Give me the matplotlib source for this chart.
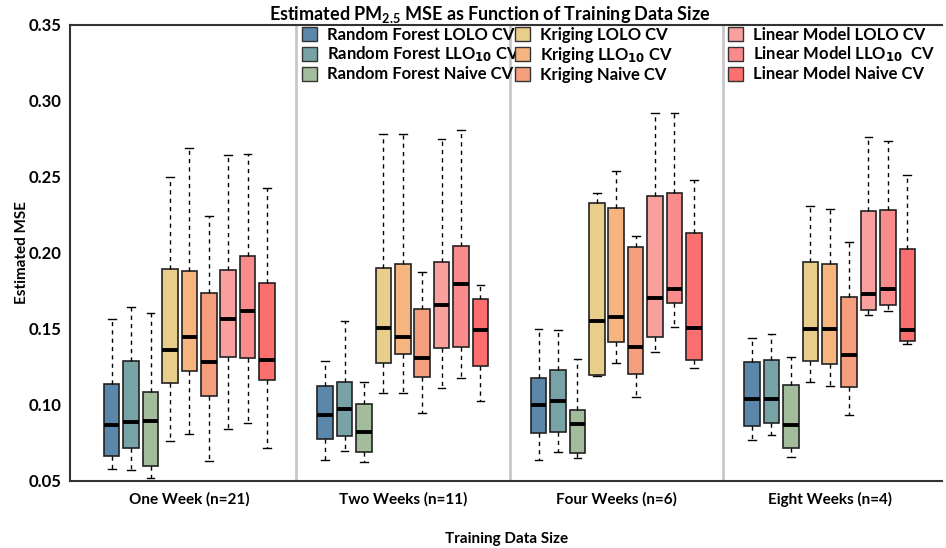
import matplotlib
matplotlib.use("Agg")
import matplotlib.pyplot as plt
from matplotlib.patches import Patch

plt.rcParams['font.family'] = ['Lato', 'DejaVu Sans']
plt.rcParams['font.weight'] = 'bold'
plt.rcParams['mathtext.fontset'] = 'custom'
plt.rcParams['mathtext.rm'] = 'Lato:bold'
plt.rcParams['mathtext.default'] = 'rm'

groups = ["One Week (n=21)", "Two Weeks (n=11)", "Four Weeks (n=6)", "Eight Weeks (n=4)"]
methods = ["Random Forest LOLO CV", "Random Forest LLO$_{\\mathsf{10}}$ CV", "Random Forest Naive CV",
           "Kriging LOLO CV", "Kriging LLO$_{\\mathsf{10}}$ CV", "Kriging Naive CV",
           "Linear Model LOLO CV", "Linear Model LLO$_{\\mathsf{10}}$  CV", "Linear Model Naive CV"]
colors = ["#5b88aa", "#77a3a6", "#a3bd9c", "#e9cd8b", "#f6b57e", "#f59e7d",
          "#f8a09d", "#f98b8d", "#fc6f6f"]

# each box: (whisker low, q1, median, q3, whisker high)
week1 = [(0.0581, 0.0667, 0.0870, 0.1136, 0.1566),
         (0.0574, 0.0719, 0.0886, 0.1287, 0.1645),
         (0.0522, 0.0599, 0.0895, 0.1088, 0.1603),
         (0.0765, 0.1143, 0.1364, 0.1895, 0.2500),
         (0.0809, 0.1226, 0.1447, 0.1884, 0.2693),
         (0.0632, 0.1059, 0.1281, 0.1735, 0.2241),
         (0.0840, 0.1318, 0.1564, 0.1886, 0.2645),
         (0.0879, 0.1309, 0.1616, 0.1978, 0.2653),
         (0.0717, 0.1164, 0.1296, 0.1803, 0.2428)]
week2 = [(0.0636, 0.0779, 0.0932, 0.1123, 0.1292),
         (0.0699, 0.0796, 0.0971, 0.1149, 0.1555),
         (0.0625, 0.0691, 0.0822, 0.1004, 0.1153),
         (0.1079, 0.1274, 0.1504, 0.1904, 0.2781),
         (0.1077, 0.1333, 0.1449, 0.1926, 0.2783),
         (0.0945, 0.1186, 0.1309, 0.1632, 0.1877),
         (0.1114, 0.1375, 0.1660, 0.1943, 0.2748),
         (0.1178, 0.1380, 0.1798, 0.2048, 0.2807),
         (0.1029, 0.1259, 0.1491, 0.1695, 0.1789)]
week4 = [(0.0640, 0.0814, 0.1002, 0.1178, 0.1502),
         (0.0693, 0.0825, 0.1024, 0.1230, 0.1496),
         (0.0649, 0.0686, 0.0873, 0.0969, 0.1300),
         (0.1189, 0.1197, 0.1553, 0.2327, 0.2397),
         (0.1274, 0.1412, 0.1581, 0.2298, 0.2542),
         (0.1055, 0.1204, 0.1382, 0.2037, 0.2112),
         (0.1351, 0.1449, 0.1704, 0.2377, 0.2919),
         (0.1515, 0.1671, 0.1763, 0.2397, 0.2919),
         (0.1246, 0.1296, 0.1504, 0.2130, 0.2480)]
week8 = [(0.0770, 0.0860, 0.1039, 0.1283, 0.1441),
         (0.0803, 0.0879, 0.1037, 0.1294, 0.1465),
         (0.0656, 0.0719, 0.0866, 0.1130, 0.1318),
         (0.1149, 0.1287, 0.1498, 0.1939, 0.2309),
         (0.1125, 0.1272, 0.1498, 0.1930, 0.2292),
         (0.0934, 0.1118, 0.1331, 0.1713, 0.2070),
         (0.1592, 0.1627, 0.1728, 0.2276, 0.2765),
         (0.1616, 0.1656, 0.1761, 0.2281, 0.2735),
         (0.1399, 0.1423, 0.1491, 0.2024, 0.2515)]
all_groups = [week1, week2, week4, week8]

yticks = [0.05, 0.10, 0.15, 0.20, 0.25, 0.30, 0.35]

fig = plt.figure(figsize=(9.46, 5.48), dpi=100)
ax = fig.add_axes([0.074, 0.1223, 0.922, 0.8321])

GAP = 11
for g, data in enumerate(all_groups):
    stats = []
    pos = []
    for i, (lo, q1, med, q3, hi) in enumerate(data):
        stats.append(dict(whislo=lo, q1=q1, med=med, q3=q3, whishi=hi, fliers=[]))
        pos.append(g * GAP + i + 1)
    bp = ax.bxp(stats, positions=pos, widths=0.8, patch_artist=True, showfliers=False,
                boxprops=dict(edgecolor="#222222", linewidth=1.2),
                medianprops=dict(color="black", linewidth=2.8),
                whiskerprops=dict(color="black", linestyle=(0, (3, 3)), linewidth=1.0),
                capprops=dict(color="black", linewidth=1.0), capwidths=0.4)
    for patch, c in zip(bp['boxes'], colors):
        patch.set_facecolor(c)

# separators
for g in range(1, 4):
    ax.axvline(g * GAP + 5 - 5.5, color="#c8c8c8", linewidth=2.0, zorder=0)

ax.set_xlim(-1.15, 43.8)
ax.set_ylim(0.05, 0.35)
ax.set_yticks(yticks)
ax.set_yticklabels([f"{v:.2f}" for v in yticks], fontsize=12, fontweight='bold')
ax.set_xticks([g * GAP + 5 for g in range(4)])
ax.set_xticklabels(groups, fontsize=11, fontweight='bold')
ax.tick_params(axis='x', length=0, pad=8)
ax.tick_params(axis='y', length=0, pad=6)
ax.spines['right'].set_visible(False)
for s in ['left', 'bottom', 'top']:
    ax.spines[s].set_color("#333333")
    ax.spines[s].set_linewidth(1.5)

ax.set_ylabel("Estimated MSE", fontsize=11, fontweight='bold')
ax.yaxis.set_label_coords(-0.047, 0.5)
ax.set_xlabel("Training Data Size", fontsize=11, fontweight='bold', labelpad=18)
ax.set_title("Estimated PM$_{2.5}$ MSE as Function of Training Data Size", fontsize=13,
             fontweight='bold', pad=3, x=(490 - 70) / 872)

for k in range(3):
    handles = [Patch(facecolor=colors[3 * k + j], edgecolor="#333333", linewidth=1.0,
                     label=methods[3 * k + j]) for j in range(3)]
    leg = ax.legend(handles=handles, loc="upper left",
                    bbox_to_anchor=(k * GAP + 5 - 5.5 + GAP + 0.2, 0.35),
                    bbox_transform=ax.transData, frameon=False,
                    prop=dict(family='Lato', weight='bold', size=12),
                    handlelength=0.9, handleheight=0.9, handletextpad=0.6,
                    labelspacing=0.12, borderaxespad=0.0, borderpad=0.1)
    if k < 2:
        ax.add_artist(leg)

fig.savefig("out.png", dpi=100)
